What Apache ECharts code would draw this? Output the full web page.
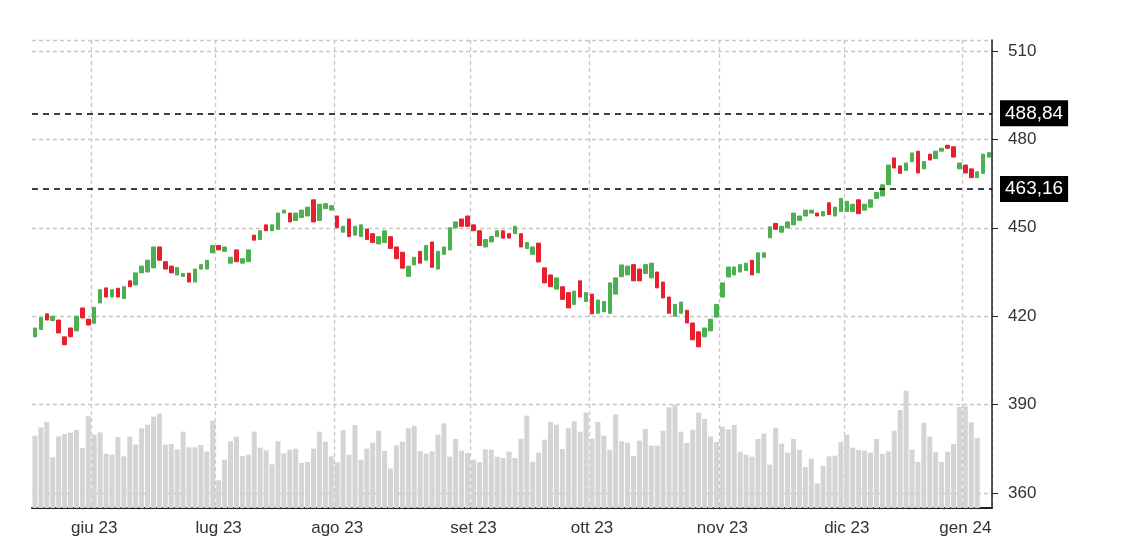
<!DOCTYPE html>
<html><head><meta charset="utf-8">
<script src="https://cdn.jsdelivr.net/npm/echarts@6/dist/echarts.min.js"></script>
<style>html,body{margin:0;padding:0;background:#fff}#c{width:1122px;height:556px}</style>
</head><body><div id="c"></div>
<script>
const holidays = ['2023-05-29','2023-06-19','2023-07-04','2023-09-04','2023-11-23','2023-12-25','2024-01-01'];
const startDate = '2023-05-18';
const nDays = 162;
const monthNames = ['gen','feb','mar','apr','mag','giu','lug','ago','set','ott','nov','dic'];
const opens = [413,415.5,420.8,418.5,418.7,413,416,415,422.8,419,417.6,424.5,429.6,426.5,429.5,426,432,430.6,434.7,435,
436.4,443.5,438.5,437,434,433.5,434.6,431.6,436,436,441.5,444,442,438,442.5,438,438.5,447.5,446,451,
449,449.5,455,455,452.5,453.5,454,459.5,452.5,456.5,456,454,448.5,453,447.5,447,449.6,448,444.5,445,
447,443.5,441.7,433.5,437.4,442,439,445.2,436,441,442.5,450,453,454,451,449,443.5,445.2,447,449,
448,448,448,443,441,444.8,436.4,434,429.2,430,428,424,432,425,427.5,421,421.5,421,427.5,433.4,
434,437.5,436,434.5,433,435,431.6,426.5,420,421,422,417.7,414.7,413,415,419.7,426.5,433.3,434,435,
435.5,439,434.7,440,446.6,451.5,448.5,450,451,452.5,454,455,455,454,458.5,454,455.5,455.5,455.5,459.5,
456,457,460,460.8,464.6,473.7,471,469.5,472.4,476,470,475,473.5,476,478,477.5,470,471.3,470,467,468.5,474];
const closes = [416,419.5,418.7,420,414.3,410.3,413,420,419.4,417,423,429,426.5,429,426.5,430,430,434.7,437,439,
443.5,439,436,434.7,436.5,434.5,431.6,436,437.5,439,444,442.5,443.5,440,438.5,439.5,442.5,445.8,449,449,
451,455,456,452,455,456,457,452,458,458.2,457.5,450,450.5,447,450.5,451,446,445,447,449,
443,439.5,436.3,437,440,438,444,436.6,442,443.5,450,452,450.5,450.5,449,444,446,447,449,446.5,
446.5,450.5,443.5,445,443.5,438.4,431.3,430,433,425.7,422.8,428.5,426.5,428,420.8,425.5,425,431.3,433,437.4,
437,432,432,437.5,438,429.6,426.2,421,424,424.8,417.7,412,409.6,416,419,424,431.3,436.7,436.7,437.5,
438,434,441.5,441.5,450.3,449.5,450.5,452,455,454,456,456,454,455.5,454.5,457,460,459,458,454.8,
458,459.5,462,464.6,471.3,470.3,468.5,472,475.4,468.6,472.5,473,476,477,477,474,472,468.6,467,469,475,475.5];
const volumes = [217,242,258,152,215,222,226,234,180,275,220,227,163,160,213,155,214,190,239,250,274,283,190,192,176,229,182,182,189,169,262,83,
145,200,214,156,160,229,181,173,131,200,164,175,178,135,138,178,229,199,155,137,234,160,249,145,178,196,232,171,119,188,199,239,246,171,163,170,220,254,154,207,172,165,145,138,176,175,154,150,
169,150,208,277,139,166,205,258,250,177,239,260,229,286,208,258,217,175,281,200,196,156,202,237,187,187,232,302,310,229,195,235,286,267,215,198,244,236,249,169,160,154,207,223,130,241,193,166,207,174,123,148,74,126,155,157,198,220,181,174,172,166,207,162,170,232,294,352,175,138,256,214,167,138,169,192,303,305,257,210];
const refLines = [488.84, 463.16];
const yTicks = [360, 390, 420, 450, 480, 510];

const dates = [];
{
  let d = new Date(startDate + 'T12:00:00Z');
  while (dates.length < nDays) {
    const wd = d.getUTCDay();
    const s = d.toISOString().slice(0,10);
    if (wd !== 0 && wd !== 6 && holidays.indexOf(s) < 0) dates.push(s);
    d = new Date(d.getTime() + 86400000);
  }
}
const n = Math.min(opens.length, closes.length, dates.length);
const cats = dates.slice(0, n);
const candle = [];
for (let i = 0; i < n; i++) candle.push([opens[i], closes[i], Math.min(opens[i], closes[i]), Math.max(opens[i], closes[i])]);
const vol = volumes.slice(0, n);
const isMonthStart = (i) => i > 0 && i < cats.length && cats[i].slice(5,7) !== cats[i-1].slice(5,7);
const monthLabel = (v, i) => {
  const p = cats[i - 1];
  return monthNames[+p.slice(5,7)-1] + ' ' + p.slice(2,4);
};

const chart = echarts.init(document.getElementById('c'));
const font = 'Helvetica Neue, Arial, Liberation Sans, sans-serif';
chart.setOption({
  animation: false,
  textStyle: {fontFamily: font},
  grid: [
    {left: 32, right: 130, top: 51, bottom: 63},
    {left: 32, right: 130, top: 40, bottom: 48}
  ],
  xAxis: [
    {type: 'category', data: cats, gridIndex: 0, show: false},
    {type: 'category', data: cats, gridIndex: 1,
     axisLine: {lineStyle: {color: '#222', width: 2}},
     axisTick: {show: false},
     axisLabel: {interval: (i) => isMonthStart(i - 1), formatter: monthLabel, color: '#333', fontSize: 17, margin: 12},
     splitLine: {show: true, interval: (i) => isMonthStart(i - 1), lineStyle: {color: '#c8c8c8', type: [4,3], width: 1.3}}}
  ],
  yAxis: [
    {type: 'value', gridIndex: 0, position: 'right', min: 360, max: 510, interval: 30,
     axisLine: {show: false},
     axisTick: {show: true, length: 6, lineStyle: {color: '#222'}},
     axisLabel: {color: '#333', fontSize: 17, margin: 16},
     splitLine: {show: true, lineStyle: {color: '#c8c8c8', type: [4,3], width: 1.3}}},
    {type: 'value', gridIndex: 1, position: 'right', min: 0, max: 1404, interval: 1404,
     axisLine: {show: true, lineStyle: {color: '#222', width: 1.5}},
     axisTick: {show: false}, axisLabel: {show: false},
     splitLine: {show: true, lineStyle: {color: '#c8c8c8', type: [4,3], width: 1.3}}}
  ],
  series: [
    {type: 'bar', xAxisIndex: 1, yAxisIndex: 1, data: vol, barWidth: 5,
     itemStyle: {color: '#d4d4d4'}, z: 1},
    {type: 'candlestick', xAxisIndex: 0, yAxisIndex: 0, data: candle, barWidth: 4, z: 3,
     itemStyle: {color: '#4caf50', color0: '#e8202e', borderColor: '#4caf50', borderColor0: '#e8202e', borderWidth: 1},
     markLine: {symbol: 'none', silent: true,
       lineStyle: {color: '#000', type: [6,5], width: 1.5},
       label: {position: 'end', formatter: (p) => p.value.toFixed(2).replace('.', ','),
         backgroundColor: '#000', color: '#fff', fontSize: 19, padding: [4,5,3,5], distance: 8},
       data: refLines.map(v => ({yAxis: v}))}}
  ]
});
</script></body></html>
